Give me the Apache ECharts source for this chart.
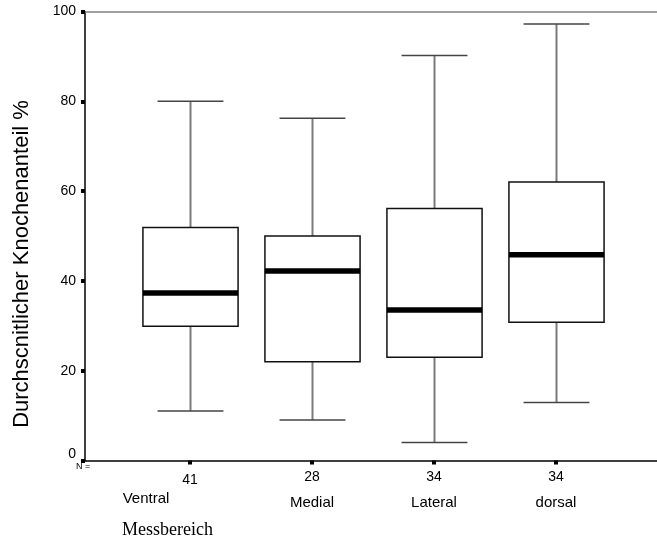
<!DOCTYPE html>
<html>
<head>
<meta charset="utf-8">
<script src="https://cdn.jsdelivr.net/npm/echarts@6/dist/echarts.min.js"></script>
<style>html,body{margin:0;padding:0;background:#fff;}#c{width:657px;height:549px;}</style>
</head>
<body>
<div id="c"></div>
<script>
const categories = ['Ventral', 'Medial', 'Lateral', 'dorsal'];
const nValues = ['41', '28', '34', '34'];
const minVals = [11.0, 9.0, 4.0, 12.9];
const q1Vals = [29.9, 22.0, 23.0, 30.8];
const medianVals = [37.3, 42.2, 33.5, 45.8];
const q3Vals = [51.9, 50.0, 56.1, 62.0];
const maxVals = [80.0, 76.2, 90.2, 97.2];
const yTicks = [0, 20, 40, 60, 80, 100];
const yTitle = 'Durchscnitlicher Knochenanteil %';
const xTitle = 'Messbereich';

const positions = categories.map((c, i) => i + 1);
const boxData = categories.map((c, i) => [positions[i], minVals[i], q1Vals[i], medianVals[i], q3Vals[i], maxVals[i]]);

const font = 'Liberation Sans, Arial, sans-serif';
const chart = echarts.init(document.getElementById('c'));
const XMIN = 0.139, XMAX = 4.828;

function renderItem(params, api) {
  const x = api.value(0);
  const pMin = api.coord([x, api.value(1)]);
  const pQ1 = api.coord([x, api.value(2)]);
  const pMed = api.coord([x, api.value(3)]);
  const pQ3 = api.coord([x, api.value(4)]);
  const pMax = api.coord([x, api.value(5)]);
  const bw = api.size([0.78, 0])[0];
  const cw = api.size([0.54, 0])[0];
  const cx = Math.round(pMed[0]) + 0.5;
  const wStyle = { stroke: '#7a7a7a', lineWidth: 2 };
  const cStyle = { stroke: '#444', lineWidth: 1.5 };
  return {
    type: 'group',
    children: [
      { type: 'line', shape: { x1: cx, y1: pMax[1], x2: cx, y2: pQ3[1] }, style: wStyle },
      { type: 'line', shape: { x1: cx, y1: pQ1[1], x2: cx, y2: pMin[1] }, style: wStyle },
      { type: 'line', shape: { x1: cx - cw / 2, y1: pMax[1], x2: cx + cw / 2, y2: pMax[1] }, style: cStyle },
      { type: 'line', shape: { x1: cx - cw / 2, y1: pMin[1], x2: cx + cw / 2, y2: pMin[1] }, style: cStyle },
      { type: 'rect', shape: { x: cx - bw / 2, y: pQ3[1], width: bw, height: pQ1[1] - pQ3[1] },
        style: { fill: '#fff', stroke: '#111', lineWidth: 1.5 } },
      { type: 'line', shape: { x1: cx - bw / 2, y1: pMed[1], x2: cx + bw / 2, y2: pMed[1] },
        style: { stroke: '#000', lineWidth: 5.5 } }
    ]
  };
}

chart.setOption({
  animation: false,
  backgroundColor: '#fff',
  grid: { left: 85, right: 0, top: 11.5, bottom: 88.5 },
  xAxis: [
    {
      type: 'value', min: XMIN, max: XMAX, position: 'bottom',
      axisLine: { show: true, lineStyle: { color: '#000', width: 1.5 } },
      axisTick: { show: true, customValues: positions, length: 4, lineStyle: { color: '#000', width: 4 } },
      axisLabel: {
        customValues: positions, margin: 10, color: '#000', fontSize: 14, fontFamily: font,
        formatter: v => { const i = Math.round(v) - 1; return i === 0 ? '{d|' + nValues[i] + '}' : '{n|' + nValues[i] + '}'; },
        rich: {
          d: { fontSize: 14, fontFamily: font, color: '#000', padding: [3, 0, 0, 0] },
          n: { fontSize: 14, fontFamily: font, color: '#000' }
        }
      },
      splitLine: { show: false }
    },
    {
      type: 'value', min: XMIN, max: XMAX, position: 'bottom',
      axisLine: { show: false }, axisTick: { show: false },
      axisLabel: {
        customValues: positions, margin: 31, color: '#000', fontSize: 15, fontFamily: font,
        formatter: v => { const i = Math.round(v) - 1; return i === 0 ? '{a|' + categories[i] + '}' : '{b|' + categories[i] + '}'; },
        rich: {
          a: { fontSize: 15, fontFamily: font, color: '#000', padding: [0, 88, 0, 0] },
          b: { fontSize: 15, fontFamily: font, color: '#000', padding: [4, 0, 0, 0] }
        }
      },
      splitLine: { show: false }
    },
    {
      type: 'value', min: XMIN, max: XMAX, position: 'top',
      axisLine: { show: true, lineStyle: { color: '#808080', width: 1.5 } },
      axisTick: { show: false }, axisLabel: { show: false }, splitLine: { show: false }
    }
  ],
  yAxis: {
    type: 'value', min: yTicks[0], max: yTicks[yTicks.length - 1], interval: 20,
    axisLine: { show: true, lineStyle: { color: '#000', width: 1.5 } },
    axisTick: { show: true, length: 4, lineStyle: { color: '#000', width: 4 } },
    axisLabel: {
      color: '#000', fontSize: 14, fontFamily: font, margin: 9,
      formatter: v => v === 0 ? '{z|0}' : '{t|' + v + '}',
      rich: {
        z: { fontSize: 14, fontFamily: font, color: '#000', padding: [0, 0, 12, 0] },
        t: { fontSize: 14, fontFamily: font, color: '#000' }
      }
    },
    splitLine: { show: false }
  },
  graphic: [
    { type: 'text', x: 22, y: 264, rotation: Math.PI / 2,
      style: { text: yTitle, fontSize: 22, fontFamily: font, fill: '#000', align: 'center', verticalAlign: 'middle' } },
    { type: 'text', left: 76, top: 462, style: { text: 'N =', fontSize: 9, fontFamily: font, fill: '#000' } },
    { type: 'text', left: 122, top: 521, style: { text: xTitle, fontSize: 18, fontFamily: 'Liberation Serif, Times New Roman, serif', fill: '#000' } }
  ],
  series: [{
    type: 'custom', renderItem: renderItem, data: boxData,
    encode: { x: 0, y: [1, 2, 3, 4, 5] }, xAxisIndex: 0, yAxisIndex: 0
  }]
});
</script>
</body>
</html>
